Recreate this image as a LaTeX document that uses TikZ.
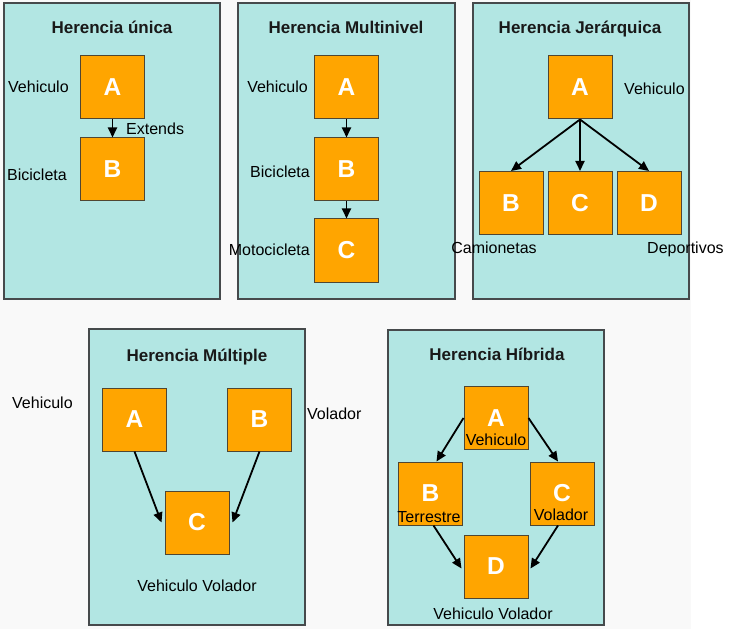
\documentclass[tikz,border=0pt]{standalone}
\usepackage{fontspec}
\setmainfont{Liberation Sans}
\usetikzlibrary{arrows.meta,calc}
\definecolor{pagebg}{RGB}{249,249,249}
\definecolor{panelfill}{RGB}{178,230,227}
\definecolor{paneldraw}{RGB}{70,74,76}
\definecolor{boxfill}{RGB}{255,165,0}
\definecolor{boxdraw}{RGB}{80,70,50}
\tikzset{
  panel/.style={draw=paneldraw,fill=panelfill,line width=1.2pt},
  cls/.style={draw=boxdraw,fill=boxfill,line width=1pt,minimum width=64pt,minimum height=63pt,inner sep=0pt,
    text=white,font=\fontsize{24.5}{24.5}\selectfont\bfseries},
  ttl/.style={font=\fontsize{17}{17}\selectfont\bfseries,text=black!90,inner sep=0pt,anchor=mid},
  lbl/.style={font=\fontsize{16}{16}\selectfont,text=black,inner sep=0pt},
  arr/.style={-{Triangle[length=10pt,width=9pt]},line width=1.8pt,black}
}
\begin{document}
\begin{tikzpicture}[x=1pt,y=-1pt]
\useasboundingbox (0,0) rectangle (730,644);
\fill[white] (0,0) rectangle (730,644);
\fill[pagebg] (0,0) rectangle (691,629);
% panels
\draw[panel] (4,3) rectangle (220,299);
\draw[panel] (238,3) rectangle (455,299);
\draw[panel] (473,3) rectangle (689,299);
\draw[panel] (89,329) rectangle (305,625);
\draw[panel] (388,330) rectangle (604,625);
% titles
\node[ttl] (t1) at (112,31) {Herencia única};
\node[ttl] (t2) at (346,31) {Herencia Multinivel};
\node[ttl] (t3) at (580,31) {Herencia Jerárquica};
\node[ttl] (t4) at (197,359) {Herencia Múltiple};
\node[ttl] (t5) at (497,358) {Herencia Híbrida};
% panel 1
\node[cls] (a1) at (112.5,87.5) {A};
\node[cls] (b1) at (112.5,169.5) {B};
\draw[arr] (a1) -- (b1);
\node[lbl,anchor=mid west] (l1a) at (8,90) {Vehiculo};
\node[lbl,anchor=mid west] (l1e) at (126,132) {Extends};
\node[lbl,anchor=mid west] (l1b) at (7,178) {Bicicleta};
% panel 2
\node[cls] (a2) at (346.5,87.5) {A};
\node[cls] (b2) at (346.5,169.5) {B};
\node[cls] (c2) at (346.5,250.5) {C};
\draw[arr] (a2) -- (b2);
\draw[arr] (b2) -- (c2);
\node[lbl,anchor=mid east] (l2a) at (308,90) {Vehiculo};
\node[lbl,anchor=mid east] (l2b) at (310,175) {Bicicleta};
\node[lbl,anchor=mid east] (l2c) at (310,253) {Motocicleta};
% panel 3
\node[cls] (a3) at (580,87.5) {A};
\node[cls] (b3) at (511,203) {B};
\node[cls] (c3) at (580,203) {C};
\node[cls] (d3) at (649,203) {D};
\draw[arr] (a3.south) -- (b3.north);
\draw[arr] (a3.south) -- (c3.north);
\draw[arr] (a3.south) -- (d3.north);
\node[lbl,anchor=mid west] (l3a) at (624,92) {Vehiculo};
\node[lbl,anchor=mid] (l3b) at (494,251) {Camionetas};
\node[lbl,anchor=mid west] (l3d) at (647,251) {Deportivos};
% panel 4
\node[cls] (a4) at (134.5,419.5) {A};
\node[cls] (b4) at (259.5,419.5) {B};
\node[cls] (c4) at (197,522.5) {C};
\coordinate (c4l) at ($(c4.west)+(-3,0)$);
\coordinate (c4r) at ($(c4.east)+(3,0)$);
\draw[arr] (a4.south) -- (c4l);
\draw[arr] (b4.south) -- (c4r);
\node[lbl,anchor=mid west] (l4a) at (12,406) {Vehiculo};
\node[lbl,anchor=mid west] (l4b) at (307,417) {Volador};
\node[lbl,anchor=mid] (l4c) at (197,589) {Vehiculo Volador};
% panel 5
\node[cls] (a5) at (496,418) {A};
\node[cls] (b5) at (430.5,493.5) {B};
\node[cls] (c5) at (562,493.5) {C};
\node[cls] (d5) at (496,566.5) {D};
\coordinate (b5t) at ($(b5.north)+(6,0)$);
\coordinate (c5t) at ($(c5.north)+(-4,0)$);
\coordinate (b5b) at ($(b5.south)+(3,0)$);
\coordinate (c5b) at ($(c5.south)+(-4,0)$);
\coordinate (d5l) at ($(d5.west)+(-2,2)$);
\coordinate (d5r) at ($(d5.east)+(2,2)$);
\draw[arr] (a5.west) -- (b5t);
\draw[arr] (a5.east) -- (c5t);
\draw[arr] (b5b) -- (d5l);
\draw[arr] (c5b) -- (d5r);
\node[lbl,anchor=mid] (l5a) at (496,443) {Vehiculo};
\node[lbl,anchor=mid] (l5b) at (429,520) {Terrestre};
\node[lbl,anchor=mid] (l5c) at (561,518) {Volador};
\node[lbl,anchor=mid] (l5d) at (493,617) {Vehiculo Volador};
\end{tikzpicture}
\end{document}
